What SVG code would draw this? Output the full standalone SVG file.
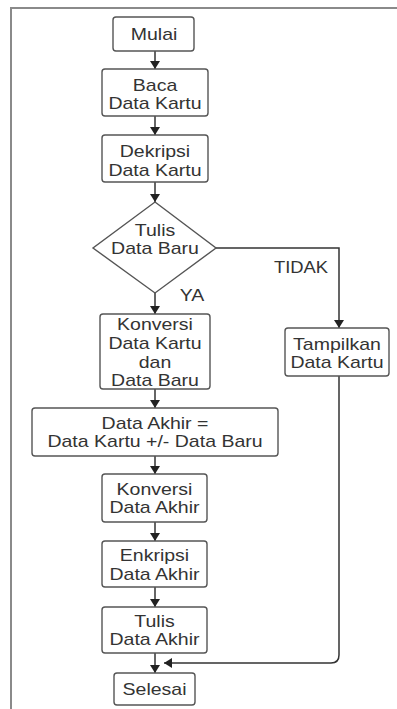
<svg xmlns="http://www.w3.org/2000/svg" width="397" height="709" viewBox="0 0 397 709">
<defs>
<style>
.box{fill:#fff;stroke:#555;stroke-width:1.4}
.t{font-family:"Liberation Sans",Arial,sans-serif;font-size:16px;fill:#333;text-anchor:middle}
.c{fill:none;stroke:#333;stroke-width:1.5}
.frame{stroke:#8a8a8a;stroke-width:2;fill:none}
</style>
<marker id="ah" markerUnits="userSpaceOnUse" markerWidth="8" markerHeight="10" refX="8" refY="5" orient="auto">
<path d="M0,0 L8,5 L0,10 z" fill="#222"/>
</marker>
</defs>
<rect width="397" height="709" fill="#fff"/>
<g id="frame">
<path class="frame" d="M11,709 V8 H397" />
</g>
<g id="connectors">
<path class="c" d="M155,51 V69" marker-end="url(#ah)"/>
<path class="c" d="M155,116 V135" marker-end="url(#ah)"/>
<path class="c" d="M155,182 V202" marker-end="url(#ah)"/>
<path class="c" d="M155,293 V314" marker-end="url(#ah)"/>
<path class="c" d="M216,248 H339 V328" marker-end="url(#ah)"/>
<path class="c" d="M155,389 V408" marker-end="url(#ah)"/>
<path class="c" d="M155,456 V474" marker-end="url(#ah)"/>
<path class="c" d="M155,522 V541" marker-end="url(#ah)"/>
<path class="c" d="M155,587 V607" marker-end="url(#ah)"/>
<path class="c" d="M155,653 V673" marker-end="url(#ah)"/>
<path class="c" d="M339,376 V655 Q339,663 331,663 H164" marker-end="url(#ah)"/>
<text class="t" transform="translate(192,301) scale(1.22,1)">YA</text>
<text class="t" transform="translate(301,273) scale(1.15,1)">TIDAK</text>
</g>
<g id="mulai">
<rect class="box" x="113" y="17" width="81" height="34" rx="3"/>
<text class="t" transform="translate(154,40) scale(1.22,1)">Mulai</text>
</g>
<g id="baca">
<rect class="box" x="102" y="69" width="106" height="47" rx="3"/>
<text class="t" transform="translate(155,90.5) scale(1.22,1)">Baca</text>
<text class="t" transform="translate(155,109) scale(1.22,1)">Data Kartu</text>
</g>
<g id="dekripsi">
<rect class="box" x="102" y="135" width="106" height="47" rx="3"/>
<text class="t" transform="translate(155,156.5) scale(1.22,1)">Dekripsi</text>
<text class="t" transform="translate(155,175.5) scale(1.22,1)">Data Kartu</text>
</g>
<g id="tulis-data-baru">
<path class="box" d="M155,202 L216,248 L155,293 L93,248 Z"/>
<text class="t" transform="translate(155,235.5) scale(1.22,1)">Tulis</text>
<text class="t" transform="translate(155,254) scale(1.22,1)">Data Baru</text>
</g>
<g id="konversi-data">
<rect class="box" x="100" y="314" width="110" height="75" rx="3"/>
<text class="t" transform="translate(155,330) scale(1.22,1)">Konversi</text>
<text class="t" transform="translate(155,349) scale(1.22,1)">Data Kartu</text>
<text class="t" transform="translate(155,367.5) scale(1.22,1)">dan</text>
<text class="t" transform="translate(155,386) scale(1.22,1)">Data Baru</text>
</g>
<g id="tampilkan">
<rect class="box" x="285" y="328" width="104" height="48" rx="3"/>
<text class="t" transform="translate(337,350) scale(1.22,1)">Tampilkan</text>
<text class="t" transform="translate(337,367.5) scale(1.22,1)">Data Kartu</text>
</g>
<g id="data-akhir">
<rect class="box" x="32" y="408" width="246" height="48" rx="3"/>
<text class="t" transform="translate(155,429.3) scale(1.22,1)">Data Akhir =</text>
<text class="t" transform="translate(155,447.3) scale(1.22,1)">Data Kartu +/- Data Baru</text>
</g>
<g id="konversi-akhir">
<rect class="box" x="102" y="474" width="105" height="48" rx="3"/>
<text class="t" transform="translate(154.5,495) scale(1.22,1)">Konversi</text>
<text class="t" transform="translate(154.5,513.3) scale(1.22,1)">Data Akhir</text>
</g>
<g id="enkripsi">
<rect class="box" x="102" y="541" width="105" height="46" rx="3"/>
<text class="t" transform="translate(154.5,561) scale(1.22,1)">Enkripsi</text>
<text class="t" transform="translate(154.5,580) scale(1.22,1)">Data Akhir</text>
</g>
<g id="tulis-data-akhir">
<rect class="box" x="102" y="607" width="105" height="46" rx="3"/>
<text class="t" transform="translate(154.5,626.7) scale(1.22,1)">Tulis</text>
<text class="t" transform="translate(154.5,645) scale(1.22,1)">Data Akhir</text>
</g>
<g id="selesai">
<rect class="box" x="114" y="673" width="81" height="32" rx="3"/>
<text class="t" transform="translate(154.5,695) scale(1.22,1)">Selesai</text>
</g>
</svg>
